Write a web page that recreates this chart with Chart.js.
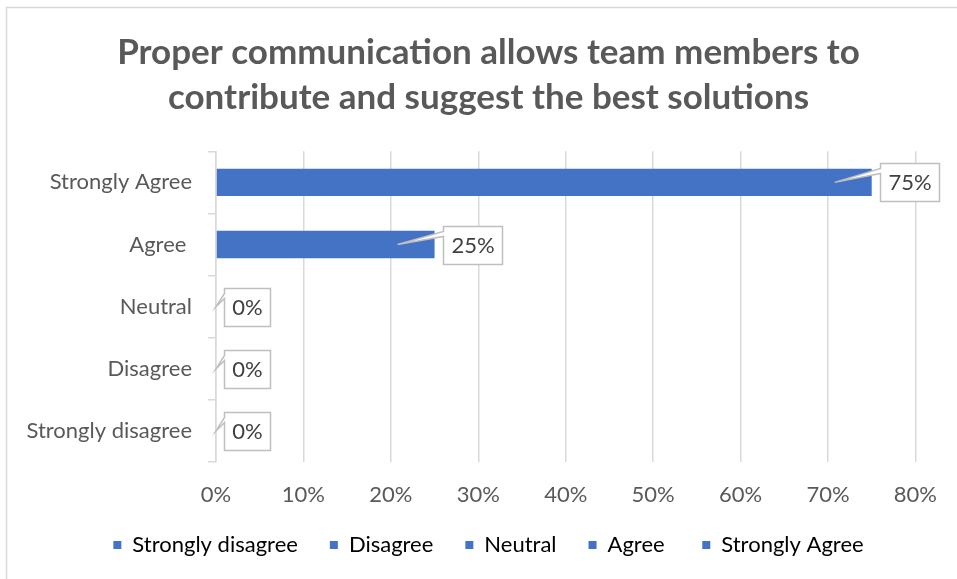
<!DOCTYPE html>
<html>
<head>
<meta charset="utf-8">
<script src="https://cdn.jsdelivr.net/npm/chart.js@4/dist/chart.umd.min.js"></script>
<style>
  html, body { margin: 0; padding: 0; background: #fff; overflow: hidden; }
  #wrap { position: relative; width: 957px; height: 579px; }
</style>
</head>
<body>
<div id="wrap"><canvas id="responseChart"></canvas></div>
<script>
// survey answers, listed bottom-up (the axis is reversed)
const categories = ['Strongly disagree', 'Disagree', 'Neutral', 'Agree ', 'Strongly Agree'];
const responses = [0, 0, 0, 25, 75];
const xTicks = [0, 10, 20, 30, 40, 50, 60, 70, 80];
const titleLines = ['Proper communication allows team members to', 'contribute and suggest the best solutions'];

const FONT = "Lato, 'Open Sans', sans-serif";
const BLUE = '#4472c4';
const GREY_TEXT = '#595959';
const GRID = '#d9d9d9';
const PAD_LEFT = 20;

// outer frame of the chart
const framePlugin = {
    id: 'frame',
    beforeDraw(chart) {
        const ctx = chart.ctx;
        ctx.save();
        ctx.fillStyle = '#fff';
        ctx.fillRect(0, 0, chart.width, chart.height);
        ctx.strokeStyle = GRID;
        ctx.lineWidth = 1.5;
        ctx.beginPath();
        ctx.moveTo(6.5, chart.height);
        ctx.lineTo(6.5, 7.5);
        ctx.lineTo(chart.width, 7.5);
        ctx.stroke();
        ctx.restore();
    }
};

// value labels in callout boxes pointing back at each bar
const calloutPlugin = {
    id: 'callouts',
    afterDatasetsDraw(chart) {
        const ctx = chart.ctx;
        const meta = chart.getDatasetMeta(0);
        const zeroX = chart.scales.x.getPixelForValue(0);
        ctx.save();
        ctx.font = '22px ' + FONT;
        meta.data.forEach((bar, i) => {
            const text = responses[i] + '%';
            const w = Math.round(ctx.measureText(text).width + 16);
            const h = 38;
            const left = Math.round(bar.x + 8) + 0.5;
            const top = Math.round(bar.y - h / 2) + 0.5;
            const tipX = Math.max(zeroX, bar.x - 37);
            const tipY = bar.y;

            ctx.beginPath();
            ctx.moveTo(left, top);
            ctx.lineTo(left + w, top);
            ctx.lineTo(left + w, top + h);
            ctx.lineTo(left, top + h);
            ctx.lineTo(left, top + 10);
            ctx.lineTo(tipX, tipY);
            ctx.lineTo(left, top + 5);
            ctx.closePath();
            ctx.fillStyle = '#fff';
            ctx.fill();
            ctx.strokeStyle = '#bfbfbf';
            ctx.lineWidth = 1.5;
            ctx.stroke();

            ctx.fillStyle = '#404040';
            ctx.textAlign = 'center';
            ctx.textBaseline = 'middle';
            ctx.fillText(text, left + w / 2, bar.y + 1);
        });
        ctx.restore();
    }
};

new Chart(document.getElementById('responseChart'), {
    type: 'bar',
    data: {
        labels: categories,
        datasets: [{
            data: responses,
            xAxisID: 'x',
            yAxisID: 'y',
            backgroundColor: BLUE,
            borderWidth: 0,
            categoryPercentage: 1,
            barPercentage: 0.44
        }]
    },
    options: {
        indexAxis: 'y',
        responsive: true,
        maintainAspectRatio: false,
        animation: false,
        layout: { padding: { left: PAD_LEFT, right: 0, top: 0, bottom: 13 } },
        plugins: {
            title: {
                display: true,
                text: titleLines,
                color: GREY_TEXT,
                font: { family: FONT, size: 35, weight: 'bold', lineHeight: 1.29 },
                padding: { top: 30, bottom: 31 }
            },
            legend: {
                position: 'bottom',
                labels: {
                    color: GREY_TEXT,
                    font: { family: FONT, size: 22 },
                    boxWidth: 8,
                    boxHeight: 8,
                    padding: 32,
                    generateLabels: () => categories.map((c, i) => ({
                        text: c,
                        fillStyle: BLUE,
                        strokeStyle: BLUE,
                        lineWidth: 0,
                        hidden: false,
                        index: i,
                        datasetIndex: 0
                    }))
                }
            },
            tooltip: { enabled: false }
        },
        scales: {
            x: {
                min: 0,
                max: 80,
                afterBuildTicks: (scale) => { scale.ticks = xTicks.map(v => ({ value: v })); },
                afterFit: (scale) => { scale.height = 40; },
                grid: { color: GRID, lineWidth: 1.5, drawTicks: false },
                border: { display: false },
                ticks: {
                    color: GREY_TEXT,
                    font: { family: FONT, size: 22 },
                    padding: 20,
                    callback: (v) => v + '%'
                }
            },
            y: {
                reverse: true,
                afterFit: (scale) => { scale.width = 216 - PAD_LEFT; },
                grid: { color: GRID, lineWidth: 1.5, drawOnChartArea: false, drawTicks: true, tickLength: 8, offset: true },
                border: { display: true, color: GRID, width: 1.5 },
                ticks: {
                    color: GREY_TEXT,
                    font: { family: FONT, size: 22 },
                    padding: 16
                }
            },
            // empty strip on the right so the plot ends before the frame edge
            yRight: {
                type: 'category',
                position: 'right',
                afterFit: (scale) => { scale.width = 40; },
                grid: { display: false },
                border: { display: false },
                ticks: { display: false }
            }
        }
    },
    plugins: [framePlugin, calloutPlugin]
});
</script>
</body>
</html>
